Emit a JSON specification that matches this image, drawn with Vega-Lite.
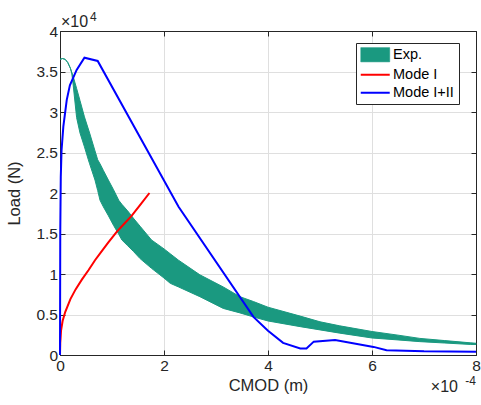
{
  "$schema": "https://vega.github.io/schema/vega-lite/v6.json",
  "width": 416,
  "height": 324,
  "autosize": {"type": "none"},
  "padding": {"left": 60, "top": 31, "right": 5, "bottom": 50},
  "background": "white",
  "config": {
    "view": {"stroke": "#262626", "strokeWidth": 1},
    "font": "Liberation Sans",
    "axis": {
      "labelFont": "Liberation Sans",
      "titleFont": "Liberation Sans",
      "labelFontSize": 15.5,
      "titleFontSize": 16.5,
      "titleFontWeight": "normal",
      "labelColor": "#262626",
      "titleColor": "#262626",
      "domainColor": "#262626",
      "tickColor": "#262626",
      "gridColor": "#dfdfdf",
      "gridWidth": 1,
      "labelFlush": false,
      "labelOverlap": false
    },
    "legend": {
      "orient": "none",
      "legendX": 296,
      "legendY": 12,
      "strokeColor": "#262626",
      "fillColor": "white",
      "padding": 4.5,
      "labelFont": "Liberation Sans",
      "labelFontSize": 14.5,
      "labelColor": "#000000",
      "labelOffset": 18,
      "rowPadding": 3,
      "symbolSize": 196,
      "symbolType": "M-1,0H3.14",
      "symbolStrokeWidth": 2
    }
  },
  "datasets": {
    "exp": [
      {"x": 0, "upper": 3.65, "lower": 3.65},
      {"x": 0.05, "upper": 3.66, "lower": 3.66},
      {"x": 0.1, "upper": 3.65, "lower": 3.65},
      {"x": 0.15, "upper": 3.61, "lower": 3.61},
      {"x": 0.2, "upper": 3.54, "lower": 3.54},
      {"x": 0.225, "upper": 3.49, "lower": 3.48},
      {"x": 0.244, "upper": 3.46, "lower": 3.39},
      {"x": 0.32, "upper": 3.29, "lower": 2.93},
      {"x": 0.385, "upper": 3.14, "lower": 2.74},
      {"x": 0.47, "upper": 2.94, "lower": 2.57},
      {"x": 0.545, "upper": 2.79, "lower": 2.41},
      {"x": 0.57, "upper": 2.74, "lower": 2.36},
      {"x": 0.673, "upper": 2.52, "lower": 2.16},
      {"x": 0.725, "upper": 2.41, "lower": 2.03},
      {"x": 0.77, "upper": 2.36, "lower": 1.91},
      {"x": 0.833, "upper": 2.28, "lower": 1.83},
      {"x": 0.93, "upper": 2.16, "lower": 1.72},
      {"x": 1.03, "upper": 2.04, "lower": 1.6},
      {"x": 1.13, "upper": 1.91, "lower": 1.49},
      {"x": 1.19, "upper": 1.86, "lower": 1.42},
      {"x": 1.3, "upper": 1.78, "lower": 1.35},
      {"x": 1.41, "upper": 1.69, "lower": 1.28},
      {"x": 1.54, "upper": 1.59, "lower": 1.19},
      {"x": 1.76, "upper": 1.42, "lower": 1.07},
      {"x": 2.0, "upper": 1.31, "lower": 0.95},
      {"x": 2.12, "upper": 1.25, "lower": 0.885},
      {"x": 2.28, "upper": 1.17, "lower": 0.84},
      {"x": 2.69, "upper": 0.99, "lower": 0.72},
      {"x": 3.14, "upper": 0.84, "lower": 0.575},
      {"x": 3.46, "upper": 0.72, "lower": 0.52},
      {"x": 3.72, "upper": 0.66, "lower": 0.47},
      {"x": 4.0, "upper": 0.59, "lower": 0.42},
      {"x": 4.62, "upper": 0.48, "lower": 0.35},
      {"x": 5.0, "upper": 0.41, "lower": 0.31},
      {"x": 5.38, "upper": 0.36, "lower": 0.27},
      {"x": 6.0, "upper": 0.29, "lower": 0.21},
      {"x": 6.5, "upper": 0.245, "lower": 0.186},
      {"x": 6.92, "upper": 0.205, "lower": 0.165},
      {"x": 7.4, "upper": 0.178, "lower": 0.148},
      {"x": 7.9, "upper": 0.15, "lower": 0.13},
      {"x": 8.0, "upper": 0.145, "lower": 0.13}
    ],
    "mode1": [
      {"x": 0, "y": 0},
      {"x": 0.005, "y": 0.15},
      {"x": 0.02, "y": 0.3},
      {"x": 0.05, "y": 0.42},
      {"x": 0.1, "y": 0.53},
      {"x": 0.2, "y": 0.69},
      {"x": 0.3, "y": 0.81},
      {"x": 0.42, "y": 0.93},
      {"x": 0.55, "y": 1.05},
      {"x": 0.673, "y": 1.17},
      {"x": 0.8, "y": 1.28},
      {"x": 0.93, "y": 1.39},
      {"x": 1.09, "y": 1.52},
      {"x": 1.19, "y": 1.59},
      {"x": 1.38, "y": 1.72},
      {"x": 1.55, "y": 1.86},
      {"x": 1.72, "y": 2.0}
    ],
    "mode12": [
      {"x": 0, "y": 0},
      {"x": 0.005, "y": 1.5},
      {"x": 0.015, "y": 2.2},
      {"x": 0.03, "y": 2.53},
      {"x": 0.064, "y": 2.82},
      {"x": 0.13, "y": 3.15},
      {"x": 0.19, "y": 3.33},
      {"x": 0.32, "y": 3.52},
      {"x": 0.47, "y": 3.67},
      {"x": 0.725, "y": 3.63},
      {"x": 2.28, "y": 1.83},
      {"x": 3.72, "y": 0.47},
      {"x": 4.0, "y": 0.3},
      {"x": 4.29, "y": 0.15},
      {"x": 4.62, "y": 0.08},
      {"x": 4.74, "y": 0.08},
      {"x": 4.88, "y": 0.165},
      {"x": 5.29, "y": 0.185},
      {"x": 6.03, "y": 0.1},
      {"x": 6.28, "y": 0.06},
      {"x": 7.0, "y": 0.045},
      {"x": 8.0, "y": 0.04}
    ]
  },
  "resolve": {"axis": {"x": "independent", "y": "independent"}},
  "layer": [
    {
      "data": {"name": "exp"},
      "mark": {"type": "area", "stroke": "#1a9980", "strokeWidth": 1, "opacity": 1},
      "encoding": {
        "x": {
          "field": "x", "type": "quantitative",
          "scale": {"domain": [0, 8], "nice": false, "zero": false},
          "axis": {"orient": "bottom", "values": [0, 2, 4, 6, 8], "title": "CMOD (m)", "grid": true, "tickSize": -5, "labelPadding": 8.5, "titlePadding": 3.5}
        },
        "y": {
          "field": "upper", "type": "quantitative",
          "scale": {"domain": [0, 4], "nice": false, "zero": false},
          "axis": {"orient": "left", "values": [0, 0.5, 1, 1.5, 2, 2.5, 3, 3.5, 4], "format": "~g", "title": "Load (N)", "grid": true, "tickSize": -5, "labelPadding": 7.5, "titlePadding": 13}
        },
        "y2": {"field": "lower"},
        "color": {
          "datum": "Exp.",
          "scale": {"domain": ["Exp.", "Mode I", "Mode I+II"], "range": ["#1a9980", "#ff0000", "#0000ff"]},
          "legend": {
            "title": null,
            "encode": {
              "symbols": {
                "update": {
                  "shape": {"signal": "datum.value === 'Exp.' ? 'M-1,-1.02H3.14V1.02H-1Z' : 'M-1,0H3.14'"},
                  "fill": {"signal": "datum.value === 'Exp.' ? '#1a9980' : 'transparent'"},
                  "stroke": {"signal": "datum.value === 'Exp.' ? '#1a9980' : (datum.value === 'Mode I' ? '#ff0000' : '#0000ff')"},
                  "strokeWidth": {"signal": "datum.value === 'Exp.' ? 0.5 : 2"},
                  "opacity": {"value": 1},
                  "fillOpacity": {"value": 1},
                  "strokeOpacity": {"value": 1}
                }
              }
            }
          }
        }
      }
    },
    {
      "data": {"name": "mode1"},
      "mark": {"type": "line", "strokeWidth": 2},
      "encoding": {
        "x": {
          "field": "x", "type": "quantitative",
          "scale": {"domain": [0, 8], "nice": false, "zero": false},
          "axis": {"orient": "top", "values": [0, 2, 4, 6, 8], "labels": false, "title": null, "grid": false, "tickSize": -5}
        },
        "y": {
          "field": "y", "type": "quantitative",
          "scale": {"domain": [0, 4], "nice": false, "zero": false},
          "axis": {"orient": "right", "values": [0, 0.5, 1, 1.5, 2, 2.5, 3, 3.5, 4], "labels": false, "title": null, "grid": false, "tickSize": -5}
        },
        "color": {
          "datum": "Mode I",
          "legend": {
            "title": null,
            "encode": {
              "symbols": {
                "update": {
                  "shape": {"signal": "datum.value === 'Exp.' ? 'M-1,-1.02H3.14V1.02H-1Z' : 'M-1,0H3.14'"},
                  "fill": {"signal": "datum.value === 'Exp.' ? '#1a9980' : 'transparent'"},
                  "stroke": {"signal": "datum.value === 'Exp.' ? '#1a9980' : (datum.value === 'Mode I' ? '#ff0000' : '#0000ff')"},
                  "strokeWidth": {"signal": "datum.value === 'Exp.' ? 0.5 : 2"},
                  "opacity": {"value": 1},
                  "fillOpacity": {"value": 1},
                  "strokeOpacity": {"value": 1}
                }
              }
            }
          }
        }
      }
    },
    {
      "data": {"name": "mode12"},
      "mark": {"type": "line", "strokeWidth": 2},
      "encoding": {
        "x": {"field": "x", "type": "quantitative", "scale": {"domain": [0, 8], "nice": false, "zero": false}, "axis": null},
        "y": {"field": "y", "type": "quantitative", "scale": {"domain": [0, 4], "nice": false, "zero": false}, "axis": null},
        "color": {
          "datum": "Mode I+II",
          "legend": {
            "title": null,
            "encode": {
              "symbols": {
                "update": {
                  "shape": {"signal": "datum.value === 'Exp.' ? 'M-1,-1.02H3.14V1.02H-1Z' : 'M-1,0H3.14'"},
                  "fill": {"signal": "datum.value === 'Exp.' ? '#1a9980' : 'transparent'"},
                  "stroke": {"signal": "datum.value === 'Exp.' ? '#1a9980' : (datum.value === 'Mode I' ? '#ff0000' : '#0000ff')"},
                  "strokeWidth": {"signal": "datum.value === 'Exp.' ? 0.5 : 2"},
                  "opacity": {"value": 1},
                  "fillOpacity": {"value": 1},
                  "strokeOpacity": {"value": 1}
                }
              }
            }
          }
        }
      }
    },
    {
      "data": {"values": [{"x": 8, "y": 0, "label": "×10"}]},
      "mark": {"type": "text", "align": "right", "baseline": "alphabetic", "dx": -18, "dy": 37, "fontSize": 16, "font": "Liberation Sans", "color": "#262626"},
      "encoding": {
        "x": {"field": "x", "type": "quantitative", "scale": {"domain": [0, 8], "nice": false, "zero": false}, "axis": null},
        "y": {"field": "y", "type": "quantitative", "scale": {"domain": [0, 4], "nice": false, "zero": false}, "axis": null},
        "text": {"field": "label"}
      }
    },
    {
      "data": {"values": [{"x": 8, "y": 0, "label": "-4"}]},
      "mark": {"type": "text", "align": "right", "baseline": "alphabetic", "dx": 0, "dy": 30, "fontSize": 12, "font": "Liberation Sans", "color": "#262626"},
      "encoding": {
        "x": {"field": "x", "type": "quantitative", "scale": {"domain": [0, 8], "nice": false, "zero": false}, "axis": null},
        "y": {"field": "y", "type": "quantitative", "scale": {"domain": [0, 4], "nice": false, "zero": false}, "axis": null},
        "text": {"field": "label"}
      }
    },
    {
      "data": {"values": [{"x": 0, "y": 4, "label": "×10"}]},
      "mark": {"type": "text", "align": "left", "baseline": "alphabetic", "dx": 1, "dy": -4, "fontSize": 16, "font": "Liberation Sans", "color": "#262626"},
      "encoding": {
        "x": {"field": "x", "type": "quantitative", "scale": {"domain": [0, 8], "nice": false, "zero": false}, "axis": null},
        "y": {"field": "y", "type": "quantitative", "scale": {"domain": [0, 4], "nice": false, "zero": false}, "axis": null},
        "text": {"field": "label"}
      }
    },
    {
      "data": {"values": [{"x": 0, "y": 4, "label": "4"}]},
      "mark": {"type": "text", "align": "left", "baseline": "alphabetic", "dx": 30, "dy": -10.5, "fontSize": 12, "font": "Liberation Sans", "color": "#262626"},
      "encoding": {
        "x": {"field": "x", "type": "quantitative", "scale": {"domain": [0, 8], "nice": false, "zero": false}, "axis": null},
        "y": {"field": "y", "type": "quantitative", "scale": {"domain": [0, 4], "nice": false, "zero": false}, "axis": null},
        "text": {"field": "label"}
      }
    }
  ]
}
